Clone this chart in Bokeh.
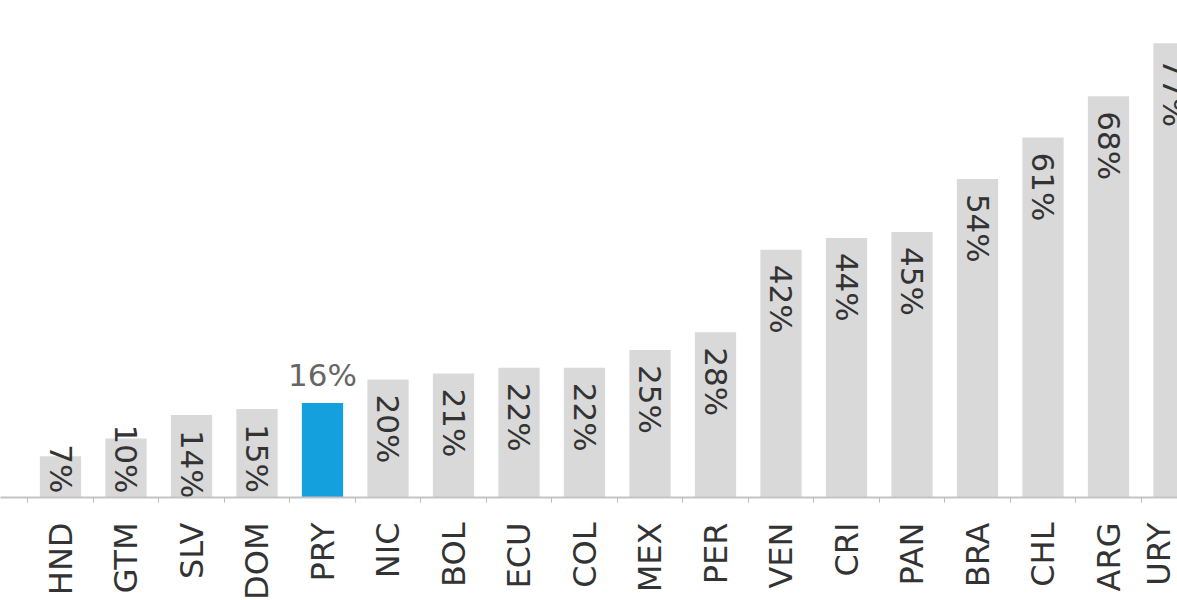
import math
from bokeh.plotting import figure
from bokeh.models import Range1d, FixedTicker
from bokeh.core.properties import value
from bokeh.embed import file_html
from bokeh.resources import INLINE

countries = ["HND", "GTM", "SLV", "DOM", "PRY", "NIC", "BOL", "ECU", "COL",
             "MEX", "PER", "VEN", "CRI", "PAN", "BRA", "CHL", "ARG", "URY"]
shares = [7, 10, 14, 15, 16, 20, 21, 22, 22, 25, 28, 42, 44, 45, 54, 61, 68, 77]
highlight = "PRY"

FONT = "DejaVu Sans"
idx = list(range(len(countries)))
colors = ["#14a0dc" if c == highlight else "#d9d9d9" for c in countries]

FW, FH = 1177, 497
x0 = -60 / 65.5
p = figure(width=FW, height=592, frame_width=FW, frame_height=FH,
           x_range=Range1d(x0, x0 + FW / 65.5), y_range=Range1d(0, FH / 5.9),
           output_backend="svg", toolbar_location=None, y_axis_location=None,
           min_border_left=0, min_border_right=0, min_border_top=0, min_border_bottom=0)
p.outline_line_color = None
p.xgrid.visible = False
p.ygrid.visible = False
p.background_fill_color = "white"
p.border_fill_color = "white"

p.vbar(x=idx, top=shares, width=0.63, fill_color=colors, line_color=None)

tall = [(i, v) for i, (c, v) in enumerate(zip(countries, shares)) if c != highlight and v >= 12]
short = [(i, v) for i, (c, v) in enumerate(zip(countries, shares)) if c != highlight and v < 12]

p.text(x=[i for i, v in tall], y=[v for i, v in tall], text=[f"{v}%" for i, v in tall],
       angle=-math.pi / 2, text_align="left", text_baseline="middle", y_offset=15,
       text_font=value(FONT), text_font_size="31px", text_color="#333333")
p.text(x=[i for i, v in short], y=[0 for i, v in short], text=[f"{v}%" for i, v in short],
       angle=-math.pi / 2, text_align="right", text_baseline="middle", y_offset=-4,
       text_font=value(FONT), text_font_size="31px", text_color="#333333")

hi = [(i, v) for i, (c, v) in enumerate(zip(countries, shares)) if c == highlight]
p.text(x=[i for i, v in hi], y=[v for i, v in hi], text=[f"{v}%" for i, v in hi],
       text_align="center", text_baseline="alphabetic", y_offset=-28,
       text_font=value(FONT), text_font_size="31px", text_color="#666666")

ax = p.xaxis[0]
ax.ticker = FixedTicker(ticks=idx, minor_ticks=[i + 0.5 for i in range(-1, len(countries))])
ax.major_label_overrides = {i: c for i, c in enumerate(countries)}
ax.major_label_orientation = math.pi / 2
ax.major_label_standoff = 20
ax.major_label_text_font = FONT
ax.major_label_text_font_size = "32px"
ax.major_label_text_color = "#333333"
ax.major_tick_out = 0
ax.major_tick_in = 0
ax.minor_tick_out = 5
ax.minor_tick_in = 0
ax.minor_tick_line_color = "#bbbbbb"
ax.axis_line_color = "#c4c4c4"
ax.axis_line_width = 2

open("out.html", "w").write(file_html(p, INLINE))
